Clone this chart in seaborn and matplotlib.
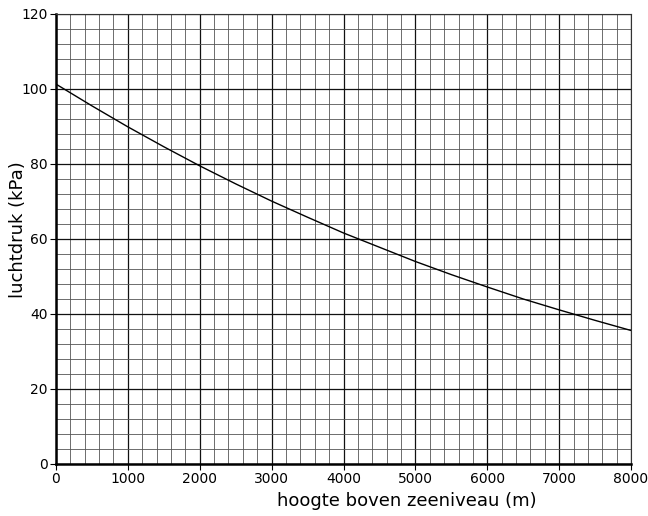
import matplotlib
matplotlib.use("Agg")
import matplotlib.pyplot as plt
from matplotlib.ticker import MultipleLocator
import seaborn as sns

# hoogte (m) en luchtdruk (kPa)
hoogte = [0, 500, 1000, 1500, 2000, 2500, 3000, 3500, 4000,
          4500, 5000, 5500, 6000, 6500, 7000, 7500, 8000]
luchtdruk = [101.3, 95.5, 89.9, 84.6, 79.5, 74.7, 70.1, 65.8, 61.6,
             57.8, 54.0, 50.5, 47.2, 44.0, 41.1, 38.3, 35.6]

sns.set_style("white")
plt.rcParams['font.family'] = ['DejaVu Sans']
plt.rcParams['text.color'] = 'black'
plt.rcParams['xtick.color'] = 'black'
plt.rcParams['ytick.color'] = 'black'
plt.rcParams['axes.labelcolor'] = 'black'

fig = plt.figure(figsize=(6.48, 5.16), dpi=100)
ax = fig.add_axes([0.0864, 0.1008, 0.8874, 0.8721])

sns.lineplot(x=hoogte, y=luchtdruk, ax=ax, color='black', linewidth=1.0)

ax.set_xlim(0, 8000)
ax.set_ylim(0, 120)
ax.xaxis.set_major_locator(MultipleLocator(1000))
ax.xaxis.set_minor_locator(MultipleLocator(200))
ax.yaxis.set_major_locator(MultipleLocator(20))
ax.yaxis.set_minor_locator(MultipleLocator(4))

ax.grid(which='major', color='#111111', linewidth=0.9)
ax.grid(which='minor', color='#555555', linewidth=0.6)
ax.set_axisbelow(True)

for side in ['top', 'right']:
    ax.spines[side].set_linewidth(0.8)
    ax.spines[side].set_color('#333333')
for side in ['left', 'bottom']:
    ax.spines[side].set_linewidth(1.8)
    ax.spines[side].set_color('black')

ax.tick_params(which='major', direction='out', length=4, width=0.8,
               labelsize=10, left=True, bottom=True, pad=2)
ax.tick_params(which='minor', length=0)

ax.set_xlabel('hoogte boven zeeniveau (m)', fontsize=13)
ax.set_ylabel('luchtdruk (kPa)', fontsize=13)
ax.xaxis.set_label_coords(0.61, -0.062)
ax.yaxis.set_label_coords(-0.05, 0.52)

fig.savefig('out.png', dpi=100)
